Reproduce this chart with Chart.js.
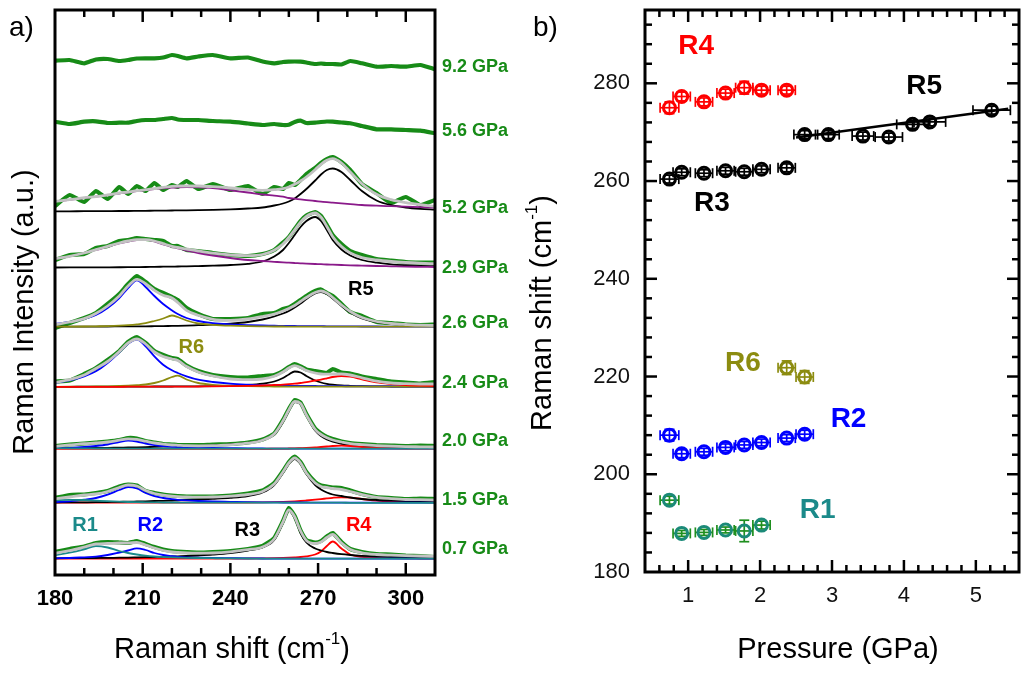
<!DOCTYPE html>
<html>

<head>
    <meta charset="utf-8">
    <title>Raman spectra under pressure</title>
    <script src="https://cdn.jsdelivr.net/npm/chart.js"></script>
    <style>
        body { margin: 0; background: #fff; }
        #wrap { position: relative; width: 1028px; height: 675px; }
        #spectra { position: absolute; left: 0; top: 0; }
        #shifts { position: absolute; left: 520px; top: 0; }
    </style>
</head>

<body>
    <div id="wrap">
        <canvas id="spectra" width="520" height="675"></canvas>
        <canvas id="shifts" width="508" height="675"></canvas>
    </div>
    <script>
        const FONT = 'Arial, "Liberation Sans", sans-serif';
        Chart.defaults.font.family = FONT;
        Chart.defaults.color = '#000';

        // ---------- panel a) spectra ----------
        const shift = [180, 185, 190, 194, 198, 202, 205, 208, 211, 214, 217, 220, 222, 225, 229, 234, 240, 246, 251, 255, 258, 260, 262, 264, 266, 269, 271, 273, 275, 278, 281, 285, 290, 295, 300, 305, 310];
        const shiftTicks = [180, 210, 240, 270, 300];
        const pressureLabels = ['0.7 GPa', '1.5 GPa', '2.0 GPa', '2.4 GPa', '2.6 GPa', '2.9 GPa', '5.2 GPa', '5.6 GPa', '9.2 GPa'];
        const baseline = [16, 72, 126, 188, 248, 307, 363, 440, 503];
        const labelLevel = [26, 75, 134, 192, 252, 307, 367, 444, 508];

        // 0.7 GPa
        const raw07 = [7, 10, 12.5, 16, 17, 16.5, 16, 18, 15, 12, 9.5, 8, 7.5, 7, 6.5, 7, 8, 10, 13, 21, 38, 51, 43, 28.5, 19, 16.5, 18, 22.5, 26, 17, 10, 7, 5, 4.5, 3.5, 3, 2];
        const fit07 = [5.7, 8.5, 12, 15, 15.5, 16, 16, 16.5, 14, 11, 8.5, 7, 6.5, 6, 5.8, 6, 7.2, 9.3, 12, 20, 37, 49, 42, 28, 18.5, 15.5, 17, 21.5, 24.5, 16, 9.5, 6.2, 4.5, 3.8, 3.3, 3, 2.6];
        const r1_07 = [4, 6.3, 9.7, 13, 11.5, 8, 6, 4.5, 3.3, 2.5, 2, 1.6, 1.4, 1.2, 1, 0.8, 0.6, 0.5, 0.4, 0.4, 0.4, 0.4, 0.4, 0.4, 0.4, 0.3, 0.3, 0.3, 0.3, 0.3, 0.3, 0.3, 0.3, 0.3, 0.3, 0.3, 0.3];
        const r2_07 = [0.7, 1, 1.7, 2.3, 4, 6.5, 8.5, 10.7, 9, 6, 4, 2.8, 2.2, 1.7, 1.3, 1, 0.8, 0.6, 0.5, 0.4, 0.4, 0.4, 0.4, 0.4, 0.4, 0.4, 0.4, 0.4, 0.3, 0.3, 0.3, 0.3, 0.3, 0.3, 0.3, 0.3, 0.3];
        const r3_07 = [0.7, 0.8, 0.9, 1, 1.1, 1.3, 1.4, 1.6, 1.8, 2, 2.2, 2.5, 2.7, 3, 3.5, 4.3, 5.8, 8.5, 11.5, 19, 36, 48.5, 41, 26, 16.5, 10.5, 8.5, 7, 6, 4.8, 4, 3.2, 2.5, 2, 1.7, 1.5, 1.3];
        const r4_07 = [0.3, 0.3, 0.3, 0.3, 0.3, 0.3, 0.3, 0.3, 0.3, 0.3, 0.3, 0.3, 0.3, 0.3, 0.3, 0.3, 0.3, 0.5, 0.7, 0.9, 1.1, 1.3, 1.6, 2, 2.7, 4.5, 7.5, 13, 17.5, 10.5, 4.5, 2.2, 1.2, 0.8, 0.6, 0.5, 0.4];

        // 1.5 GPa
        const raw15 = [5, 8, 8.5, 10, 12, 16.5, 18.5, 17.5, 12, 10, 8.5, 7.5, 7, 6.5, 6.3, 6.5, 7.5, 9.5, 12.5, 20, 32, 41, 46.5, 41, 31, 21, 17.5, 16.5, 15.5, 15, 12.5, 9, 6, 5, 4, 4.5, 4];
        const fit15 = [4.2, 6, 8, 9, 11.5, 15.5, 18, 17, 12.5, 9.5, 7.8, 6.8, 6.4, 6, 5.8, 6, 6.8, 8.5, 11.5, 19, 31, 40, 45, 40, 30, 20, 16.5, 15.5, 14.5, 13.5, 11.5, 8.3, 5.7, 4.4, 3.5, 3.3, 3];
        const r1_15 = [2.7, 3.2, 3, 2.4, 1.8, 1.3, 1, 0.8, 0.7, 0.6, 0.5, 0.5, 0.5, 0.4, 0.4, 0.4, 0.4, 0.3, 0.3, 0.3, 0.3, 0.3, 0.3, 0.3, 0.3, 0.3, 0.3, 0.3, 0.3, 0.3, 0.2, 0.2, 0.2, 0.2, 0.2, 0.2, 0.2];
        const r2_15 = [1, 1.7, 3.3, 5, 8.3, 13, 16, 14.5, 10, 6.8, 5, 3.8, 3.2, 2.6, 2, 1.5, 1.2, 0.9, 0.7, 0.6, 0.5, 0.5, 0.5, 0.5, 0.5, 0.4, 0.4, 0.4, 0.4, 0.4, 0.4, 0.3, 0.3, 0.3, 0.3, 0.3, 0.3];
        const r3_15 = [0.5, 0.6, 0.7, 0.8, 1, 1.2, 1.3, 1.5, 1.7, 2, 2.2, 2.5, 2.7, 3, 3.5, 4.2, 5.2, 7, 10.5, 18, 30, 39, 44, 39, 29, 18, 13.5, 10.5, 8.5, 7, 5.5, 4, 3, 2.4, 2, 1.7, 1.5];
        const r4_15 = [0.3, 0.3, 0.3, 0.3, 0.3, 0.3, 0.3, 0.3, 0.3, 0.3, 0.3, 0.3, 0.3, 0.3, 0.3, 0.3, 0.3, 0.5, 0.7, 0.9, 1.1, 1.3, 1.6, 2, 2.5, 3.3, 3.9, 4.6, 5.2, 5.7, 5.4, 4, 2.3, 1.4, 1, 0.8, 0.6];

        // 2.0 GPa
        const raw20 = [3, 4.5, 5.5, 6.5, 7.5, 9, 11, 10.5, 8, 6.5, 5, 4.5, 4, 4, 3.8, 4.5, 5, 6.5, 9.5, 15.5, 29, 40, 49, 46.5, 35, 20.5, 15.5, 12, 10, 7.5, 6, 5, 4, 3.5, 3, 3.5, 3];
        const fit20 = [2.7, 4, 5.3, 6, 7, 8.8, 10.2, 9.6, 7.8, 6, 4.8, 4, 3.7, 3.3, 3.2, 3.3, 4.2, 5.8, 8.8, 15, 28, 39, 47.5, 45.5, 34, 19.5, 14.5, 11.3, 9, 7, 5.3, 4.3, 3.4, 2.8, 2.4, 2.2, 2];
        const r1_20 = [0.8, 0.7, 0.6, 0.5, 0.5, 0.4, 0.4, 0.4, 0.4, 0.3, 0.3, 0.3, 0.3, 0.3, 0.3, 0.3, 0.3, 0.3, 0.3, 0.3, 0.3, 0.3, 0.3, 0.3, 0.3, 0.3, 0.3, 0.3, 0.3, 0.3, 0.3, 0.3, 0.3, 0.3, 0.3, 0.3, 0.3];
        const r2_20 = [0.8, 1.2, 2, 3, 4.5, 7, 8.3, 7.5, 5.5, 4, 2.8, 2.2, 1.9, 1.5, 1.2, 1, 0.8, 0.6, 0.5, 0.4, 0.4, 0.4, 0.4, 0.4, 0.4, 0.4, 0.4, 0.3, 0.3, 0.3, 0.3, 0.3, 0.3, 0.3, 0.3, 0.3, 0.3];
        const r3_20 = [0.8, 0.9, 1, 1.1, 1.2, 1.4, 1.5, 1.7, 1.9, 2.1, 2.3, 2.5, 2.7, 2.9, 3.2, 3.7, 4.6, 6.2, 9, 14.5, 27, 38, 47, 45, 33.5, 18.5, 13, 9.5, 7.3, 5.2, 4, 3, 2.3, 1.9, 1.6, 1.4, 1.2];
        const r4_20 = [0.2, 0.2, 0.2, 0.2, 0.2, 0.2, 0.2, 0.2, 0.2, 0.2, 0.2, 0.2, 0.2, 0.2, 0.2, 0.2, 0.2, 0.2, 0.2, 0.3, 0.4, 0.5, 0.6, 0.8, 1, 1.5, 2, 2.5, 3, 3.3, 3, 2, 1, 0.6, 0.4, 0.3, 0.3];

        // 2.4 GPa
        const raw24 = [5.5, 6.5, 13, 19, 27, 36, 45, 50, 44, 36, 32, 29, 28, 21.5, 16, 12, 10, 9.5, 11, 12, 16, 20, 23, 20.5, 17.5, 16, 15, 14, 18, 14.5, 13.5, 10.5, 8, 5.5, 4.5, 3.5, 5];
        const fit24 = [4.7, 7.3, 12, 18.5, 25.5, 35.5, 44, 48, 43, 35, 30.5, 28, 26.5, 20.5, 15, 11, 8, 7.3, 8, 10.7, 15, 19, 21.3, 19.5, 16.5, 14, 13, 12.8, 13, 13, 12, 9.2, 5.8, 4, 3.3, 3, 3];
        const r2_24 = [4, 6.7, 10.7, 15.7, 24, 34.7, 43.3, 47.3, 40.7, 30.7, 22.3, 16.7, 14, 10.7, 7.3, 5, 3.3, 2.3, 1.7, 1.4, 1.3, 1.2, 1.1, 1.1, 1, 1, 0.9, 0.9, 0.8, 0.8, 0.7, 0.7, 0.6, 0.5, 0.5, 0.4, 0.4];
        const r6_24 = [0.2, 0.3, 0.4, 0.5, 0.7, 1, 1.3, 1.8, 2.5, 4, 6.5, 10, 11.3, 7.5, 4, 2.2, 1.2, 0.8, 0.6, 0.5, 0.4, 0.4, 0.4, 0.4, 0.4, 0.4, 0.4, 0.3, 0.3, 0.3, 0.3, 0.3, 0.3, 0.3, 0.3, 0.3, 0.3];
        const r3_24 = [0.2, 0.2, 0.3, 0.3, 0.3, 0.3, 0.4, 0.4, 0.4, 0.5, 0.5, 0.5, 0.6, 0.6, 0.7, 0.9, 1.3, 2, 3.3, 5.5, 9, 12.5, 15.5, 14.5, 11, 6.5, 4.5, 3.2, 2.4, 1.6, 1.2, 0.8, 0.6, 0.5, 0.4, 0.3, 0.3];
        const r4_24 = [0.2, 0.2, 0.2, 0.2, 0.2, 0.2, 0.3, 0.3, 0.3, 0.3, 0.3, 0.4, 0.4, 0.4, 0.5, 0.6, 0.8, 1.1, 1.5, 2, 2.4, 2.8, 3.3, 4, 4.8, 6.5, 7.3, 8.6, 10, 11, 10.3, 7.7, 4.6, 3, 2, 1.4, 1];

        // 2.6 GPa
        const raw26 = [-1, 4, 9, 14, 23, 33, 43, 51, 45, 38, 34, 30, 27, 19, 13, 8, 8, 9, 13, 14, 18, 19.5, 23, 27, 31, 36, 37.5, 34, 31, 23, 15, 11, 5, 4, 2.5, 2, 2.5];
        const fit26 = [2.3, 5, 8.3, 13.5, 21, 31, 41, 47.7, 43.3, 36.7, 31.7, 29, 24.5, 16.7, 11.7, 7.7, 6.7, 8, 10.5, 13, 16, 18.5, 21.5, 25.5, 29.5, 34.5, 36, 34, 29.5, 22, 15.5, 9.5, 5.5, 3.5, 2.5, 1.8, 1.7];
        const r2_26 = [3, 5, 8, 12, 19, 29, 39, 46.7, 40, 31, 23, 16.7, 13, 9, 6, 3.8, 2.6, 1.9, 1.5, 1.3, 1.1, 1, 1, 0.9, 0.9, 0.8, 0.8, 0.7, 0.7, 0.6, 0.6, 0.5, 0.5, 0.4, 0.4, 0.4, 0.3];
        const r6_26 = [0.3, 0.35, 0.5, 0.7, 0.9, 1.3, 1.8, 2.6, 3.8, 6, 8.5, 11.5, 10, 6.5, 3.5, 2.2, 1.3, 0.8, 0.6, 0.5, 0.5, 0.4, 0.4, 0.4, 0.4, 0.4, 0.4, 0.4, 0.4, 0.3, 0.3, 0.3, 0.3, 0.3, 0.3, 0.3, 0.3];
        const r5_26 = [0.3, 0.35, 0.4, 0.45, 0.5, 0.55, 0.6, 0.65, 0.7, 0.8, 0.9, 1.1, 1.2, 1.4, 1.8, 2.3, 3.3, 5, 7.5, 10.5, 13.5, 16, 19.5, 23.5, 28, 33.5, 35, 33, 28.5, 21, 14.5, 8.5, 5, 3.2, 2.3, 1.8, 1.4];

        // 2.9 GPa
        const raw29 = [8, 13, 14, 20, 22, 27, 28, 30, 29, 28, 27, 22, 22, 18, 17, 15, 13, 12, 14, 18, 25.5, 31, 39, 47, 52.5, 56, 52, 43, 33, 24, 17, 13, 9, 7.5, 6, 5.5, 5.5];
        const fit29 = [9.3, 11.7, 15, 18.3, 21.7, 25, 27, 28.3, 28.3, 27, 24.3, 21.7, 20.5, 19, 17, 14.8, 13, 12.3, 13.5, 17.8, 24, 30.5, 38.2, 45.8, 51.5, 55, 50.8, 41.5, 31.3, 21.5, 15.1, 10.5, 8, 6.5, 5.5, 4.8, 4.3];
        const broad29 = [9.3, 11.7, 15, 18, 21.3, 24.5, 26.5, 27.8, 28.2, 26.5, 23.5, 21, 19.5, 17.5, 15, 12.5, 10, 8, 7, 6.2, 5.6, 5.3, 5, 4.7, 4.4, 4, 3.8, 3.5, 3.3, 3, 2.7, 2.4, 2, 1.7, 1.4, 1.2, 1];
        const r5_29 = [0.5, 0.55, 0.6, 0.65, 0.7, 0.75, 0.8, 0.9, 1, 1.2, 1.3, 1.4, 1.5, 1.6, 1.9, 2.3, 3, 4.2, 6.5, 11.5, 18, 25, 33, 41, 47, 51, 47, 38, 28, 18.5, 12.5, 8, 5.3, 3.7, 2.8, 2.2, 1.8];

        // 5.2 GPa
        const raw52 = [6, 17, 10, 21, 13, 25, 18, 26, 21, 29, 22, 27, 25, 31, 23, 28, 22, 26, 18, 25, 23, 29, 27, 32, 38, 44, 49, 53, 55, 50, 42, 28, 19, 9, 15, 7, 12];
        const fit52 = [10.7, 12.3, 14.3, 15.3, 17, 19, 20, 21.3, 22.3, 23.3, 24.7, 25.7, 26, 26, 26, 25.3, 24, 22.3, 21.7, 22.3, 23.3, 25, 27.7, 31, 35, 42.3, 47.7, 51.7, 53.3, 49, 40, 28.3, 17.7, 12.3, 9.3, 7.3, 5.7];
        const broad52 = [10.7, 12.2, 14, 15.3, 16.8, 18.5, 19.6, 20.8, 21.8, 22.8, 23.6, 24.3, 24.6, 24.8, 24.6, 23.8, 21.7, 19.5, 17.5, 16.3, 15.3, 14, 13.3, 12.6, 11.9, 11, 10.4, 9.8, 9.3, 8.6, 7.9, 7, 6.3, 5.8, 5.3, 4.8, 4.3];
        const r5_52 = [0.7, 0.7, 0.8, 0.8, 0.9, 1, 1, 1.1, 1.2, 1.3, 1.4, 1.5, 1.6, 1.7, 1.9, 2.2, 2.7, 3.5, 4.5, 6.5, 8.5, 10.5, 13.5, 18, 23, 31.5, 37.5, 42, 43.5, 40, 32, 21, 11.5, 6.8, 4.5, 3.2, 2.4];

        // 5.6 and 9.2 GPa (no peaks left)
        const raw56 = [13.3, 11, 13.3, 13.7, 12, 12.3, 12.3, 14, 15, 15, 16, 17, 15.5, 15, 15, 14, 13.3, 11.5, 10, 11, 10, 10.3, 13, 14.3, 12, 12.3, 13, 13.5, 13.3, 12.5, 11.7, 9, 5.7, 5.7, 5, 4.3, 1.7];
        const raw92 = [11.3, 12, 8.7, 12.5, 13, 11, 12, 13.5, 13.7, 13.7, 14.5, 17, 16, 13.7, 15.5, 17, 13.7, 14.5, 10.5, 8.7, 10, 10.3, 10.5, 10.3, 9.5, 8, 8.5, 8, 8, 7.5, 11, 8.7, 5.3, 6, 5.3, 7, 2.7];

        const GREEN = '#178b17';
        const GREY = '#c2c2c2';
        const TEAL = '#1b8a8a';
        const BLUE = '#0000ff';
        const RED = '#ff0000';
        const OLIVE = '#8c8c10';
        const PURPLE = '#8a1a8a';
        const BLACK = '#000000';

        const spectra = [
            { raw: raw07, fit: fit07, parts: [[r1_07, TEAL], [r2_07, BLUE], [r3_07, BLACK], [r4_07, RED]] },
            { raw: raw15, fit: fit15, parts: [[r1_15, TEAL], [r2_15, BLUE], [r3_15, BLACK], [r4_15, RED]] },
            { raw: raw20, fit: fit20, parts: [[r1_20, TEAL], [r4_20, RED], [r2_20, BLUE], [r3_20, BLACK]] },
            { raw: raw24, fit: fit24, parts: [[r4_24, RED], [r6_24, OLIVE], [r2_24, BLUE], [r3_24, BLACK]] },
            { raw: raw26, fit: fit26, parts: [[r6_26, OLIVE], [r2_26, BLUE], [r5_26, BLACK]] },
            { raw: raw29, fit: fit29, parts: [[broad29, PURPLE], [r5_29, BLACK]] },
            { raw: raw52, fit: fit52, parts: [[broad52, PURPLE], [r5_52, BLACK]] },
            { raw: raw56, fit: null, parts: [] },
            { raw: raw92, fit: null, parts: [] }
        ];

        const spectraNotes = [
            { text: 'R1', color: TEAL, x: 190.3, y: 50 },
            { text: 'R2', color: BLUE, x: 212.6, y: 50 },
            { text: 'R3', color: BLACK, x: 245.8, y: 45 },
            { text: 'R4', color: RED, x: 283.9, y: 50 },
            { text: 'R6', color: OLIVE, x: 226.6, y: 228 },
            { text: 'R5', color: BLACK, x: 284.6, y: 286 }
        ];

        // ---------- panel b) peak positions ----------
        const pLow = [0.74, 0.91, 1.22, 1.52, 1.78, 2.02, 2.37];
        const r1Shift = [194.7, 187.9, 188.1, 188.6, 188.4, 189.6];
        const r2Press = [0.74, 0.91, 1.22, 1.52, 1.78, 2.02, 2.37, 2.62];
        const r2Shift = [208.0, 204.2, 204.6, 205.5, 206.0, 206.5, 207.4, 208.2];
        const r3Shift = [260.4, 261.8, 261.6, 262.1, 261.9, 262.4, 262.7];
        const r4Shift = [275.0, 277.3, 276.2, 278.0, 279.1, 278.6, 278.6];
        const r5Press = [2.62, 2.95, 3.43, 3.79, 4.12, 4.36, 5.22];
        const r5Shift = [269.5, 269.5, 269.2, 269.0, 271.6, 272.1, 274.5];
        const r6Press = [2.37, 2.62];
        const r6Shift = [221.8, 219.9];
        const r5FitPress = [2.5, 5.45];
        const r5FitShift = [268.9, 274.8];

        const errPLow = [0.13, 0.12, 0.12, 0.12, 0.12, 0.12, 0.12];
        const errR1 = [0.8, 0.6, 0.6, 0.6, 2.2, 0.8];
        const errR2 = [1.2, 0.8, 0.7, 0.7, 0.7, 0.7, 0.7, 0.8];
        const errR3 = [0.8, 0.7, 0.7, 0.7, 0.7, 0.7, 0.8];
        const errR4 = [1.2, 0.9, 0.8, 0.8, 1.3, 0.8, 0.8];
        const errP5 = [0.15, 0.15, 0.15, 0.19, 0.22, 0.22, 0.26];
        const errR5 = [0.8, 0.8, 0.8, 0.8, 0.8, 0.8, 0.8];
        const errR6 = [1.4, 1.3];

        const pressTicks = [1, 2, 3, 4, 5];
        const shiftAxisTicks = [180, 200, 220, 240, 260, 280];

        const shiftNotes = [
            { text: 'R4', color: RED, x: 1.11, y: 287.6 },
            { text: 'R5', color: BLACK, x: 4.28, y: 279.4 },
            { text: 'R3', color: BLACK, x: 1.33, y: 255.5 },
            { text: 'R6', color: OLIVE, x: 1.76, y: 222.7 },
            { text: 'R2', color: BLUE, x: 3.23, y: 211.3 },
            { text: 'R1', color: TEAL, x: 2.8, y: 192.7 }
        ];

        // ---------- helpers ----------
        function seg(ctx, x0, y0, x1, y1) {
            ctx.beginPath();
            ctx.moveTo(x0, y0);
            ctx.lineTo(x1, y1);
            ctx.stroke();
        }

        // text with an optional superscript piece, centred on (cx, cy)
        function titleText(ctx, cx, cy, angle, pieces, size) {
            ctx.save();
            ctx.translate(cx, cy);
            ctx.rotate(angle);
            ctx.textAlign = 'left';
            ctx.textBaseline = 'middle';
            ctx.fillStyle = '#000';
            let total = 0;
            pieces.forEach(p => {
                ctx.font = (p.sup ? Math.round(size * 0.6) : size) + 'px ' + FONT;
                p.w = ctx.measureText(p.t).width;
                total += p.w;
            });
            let x = -total / 2;
            pieces.forEach(p => {
                ctx.font = (p.sup ? Math.round(size * 0.6) : size) + 'px ' + FONT;
                ctx.fillText(p.t, x, p.sup ? -size * 0.36 : 0);
                x += p.w;
            });
            ctx.restore();
        }

        function zeroPadding(s) {
            s.paddingLeft = 0; s.paddingRight = 0; s.paddingTop = 0; s.paddingBottom = 0;
        }

        const pts = (arr, base) => arr.map((v, i) => ({ x: shift[i], y: base + v }));

        // ---------- chart a ----------
        const spectraSets = [];
        spectra.forEach((s, k) => {
            const base = baseline[k];
            // measured data: kept a bit rough, like the raw spectrum
            spectraSets.push({ data: pts(s.raw, base), borderColor: GREEN, borderWidth: 4.2, order: 3, cubicInterpolationMode: 'default', tension: 0.15 });
            s.parts.forEach(([arr, col]) => {
                spectraSets.push({ data: pts(arr, base), borderColor: col, borderWidth: 1.8, order: 2 });
            });
            if (s.fit) spectraSets.push({ data: pts(s.fit, base), borderColor: GREY, borderWidth: 2.8, order: 1 });
        });

        const spectraDecor = {
            id: 'spectraDecor',
            afterDraw(chart) {
                const { ctx, chartArea: a, scales: { x, y } } = chart;
                ctx.save();
                ctx.strokeStyle = '#000';
                ctx.lineWidth = 2.5;
                for (let v = 190; v < 310; v += 10) {
                    const px = x.getPixelForValue(v);
                    const len = shiftTicks.includes(v) ? 12 : 7;
                    seg(ctx, px, a.bottom, px, a.bottom - len);
                    seg(ctx, px, a.top, px, a.top + len);
                }
                ctx.lineWidth = 3;
                ctx.strokeRect(a.left, a.top, a.right - a.left, a.bottom - a.top);

                // pressure labels on the right
                ctx.font = 'bold 18px ' + FONT;
                ctx.fillStyle = GREEN;
                ctx.textAlign = 'left';
                ctx.textBaseline = 'middle';
                pressureLabels.forEach((t, i) => ctx.fillText(t, a.right + 7, y.getPixelForValue(labelLevel[i])));

                // peak names
                ctx.font = 'bold 20px ' + FONT;
                ctx.textAlign = 'center';
                spectraNotes.forEach(n => {
                    ctx.fillStyle = n.color;
                    ctx.fillText(n.text, x.getPixelForValue(n.x), y.getPixelForValue(n.y));
                });

                ctx.font = '28px ' + FONT;
                ctx.fillStyle = '#000';
                ctx.textAlign = 'left';
                ctx.fillText('a)', 9, 28);
                ctx.restore();

                titleText(ctx, 232, 650, 0, [{ t: 'Raman shift (cm' }, { t: '-1', sup: true }, { t: ')' }], 29);
                titleText(ctx, 25, 312, -Math.PI / 2, [{ t: 'Raman Intensity (a.u.)' }], 29);
            }
        };

        new Chart(document.getElementById('spectra'), {
            type: 'line',
            data: { datasets: spectraSets },
            options: {
                responsive: false,
                devicePixelRatio: 1,
                animation: false,
                events: [],
                layout: { padding: { left: 55, right: 85, top: 10, bottom: 0 } },
                elements: {
                    point: { radius: 0 },
                    line: { cubicInterpolationMode: 'monotone', fill: false }
                },
                plugins: { legend: { display: false }, tooltip: { enabled: false } },
                scales: {
                    x: {
                        type: 'linear',
                        min: 180,
                        max: 310,
                        grid: { display: false, drawTicks: false },
                        border: { display: false },
                        ticks: { font: { size: 22, weight: 'bold' }, color: '#000', padding: 11, maxRotation: 0, autoSkip: false },
                        afterBuildTicks: s => { s.ticks = shiftTicks.map(v => ({ value: v })); },
                        afterFit: s => { s.height = 100; zeroPadding(s); }
                    },
                    y: { display: false, min: 0, max: 565 }
                }
            },
            plugins: [spectraDecor]
        });

        // ---------- chart b ----------
        const xy = (xs, ys) => ys.map((v, i) => ({ x: xs[i], y: v }));
        const marker = (color) => ({
            showLine: false,
            pointRadius: 6,
            pointBorderWidth: 3,
            pointBackgroundColor: 'rgba(0,0,0,0)',
            pointBorderColor: color,
            borderColor: color
        });

        const shiftSets = [
            Object.assign({ data: xy(pLow, r4Shift), errX: errPLow, errY: errR4, errColor: RED, order: 1 }, marker(RED)),
            Object.assign({ data: xy(pLow, r3Shift), errX: errPLow, errY: errR3, errColor: BLACK, order: 1 }, marker(BLACK)),
            Object.assign({ data: xy(r5Press, r5Shift), errX: errP5, errY: errR5, errColor: BLACK, order: 1 }, marker(BLACK)),
            Object.assign({ data: xy(r6Press, r6Shift), errX: [0.12, 0.12], errY: errR6, errColor: OLIVE, order: 1 }, marker(OLIVE)),
            Object.assign({ data: xy(r2Press, r2Shift), errX: r2Press.map((_, i) => i < 7 ? errPLow[i] : 0.12), errY: errR2, errColor: BLUE, order: 1 }, marker(BLUE)),
            Object.assign({ data: xy(pLow.slice(0, 6), r1Shift), errX: errPLow.slice(0, 6), errY: errR1, errColor: '#1f8f1f', order: 1 }, marker('#1b8a78')),
            { data: xy(r5FitPress, r5FitShift), showLine: true, pointRadius: 0, borderColor: BLACK, borderWidth: 2.5, order: 2 }
        ];

        const shiftDecor = {
            id: 'shiftDecor',
            beforeDatasetsDraw(chart) {
                const { ctx, scales: { x, y } } = chart;
                ctx.save();
                ctx.lineWidth = 1.7;
                chart.data.datasets.forEach(ds => {
                    if (!ds.errX) return;
                    ctx.strokeStyle = ds.errColor;
                    ds.data.forEach((p, j) => {
                        const cx = x.getPixelForValue(p.x);
                        const cy = y.getPixelForValue(p.y);
                        const x0 = x.getPixelForValue(p.x - ds.errX[j]);
                        const x1 = x.getPixelForValue(p.x + ds.errX[j]);
                        seg(ctx, x0, cy, x1, cy);
                        seg(ctx, x0, cy - 5, x0, cy + 5);
                        seg(ctx, x1, cy - 5, x1, cy + 5);
                        const y0 = y.getPixelForValue(p.y - ds.errY[j]);
                        const y1 = y.getPixelForValue(p.y + ds.errY[j]);
                        seg(ctx, cx, y0, cx, y1);
                        seg(ctx, cx - 5, y0, cx + 5, y0);
                        seg(ctx, cx - 5, y1, cx + 5, y1);
                    });
                });
                ctx.restore();
            },
            afterDraw(chart) {
                const { ctx, chartArea: a, scales: { x, y } } = chart;
                ctx.save();
                ctx.strokeStyle = '#000';
                ctx.lineWidth = 2.5;
                for (let i = 3; i < 28; i++) {
                    const px = x.getPixelForValue(i / 5);
                    const len = i % 5 === 0 ? 12 : 7;
                    seg(ctx, px, a.bottom, px, a.bottom - len);
                    seg(ctx, px, a.top, px, a.top + len);
                }
                for (let v = 184; v < 295; v += 4) {
                    const py = y.getPixelForValue(v);
                    const len = (v - 180) % 20 === 0 ? 12 : 7;
                    seg(ctx, a.left, py, a.left + len, py);
                    seg(ctx, a.right, py, a.right - len, py);
                }
                ctx.lineWidth = 3;
                ctx.strokeRect(a.left, a.top, a.right - a.left, a.bottom - a.top);

                ctx.font = 'bold 28px ' + FONT;
                ctx.textAlign = 'center';
                ctx.textBaseline = 'middle';
                shiftNotes.forEach(n => {
                    ctx.fillStyle = n.color;
                    ctx.fillText(n.text, x.getPixelForValue(n.x), y.getPixelForValue(n.y));
                });

                ctx.font = '28px ' + FONT;
                ctx.fillStyle = '#000';
                ctx.textAlign = 'left';
                ctx.fillText('b)', 13, 28);
                ctx.restore();

                titleText(ctx, 318, 650, 0, [{ t: 'Pressure (GPa)' }], 29);
                titleText(ctx, 23, 313, -Math.PI / 2, [{ t: 'Raman shift (cm' }, { t: '-1', sup: true }, { t: ')' }], 29);
            }
        };

        new Chart(document.getElementById('shifts'), {
            type: 'scatter',
            data: { datasets: shiftSets },
            options: {
                responsive: false,
                devicePixelRatio: 1,
                animation: false,
                events: [],
                layout: { padding: { left: 0, right: 1, top: 10, bottom: 0 } },
                plugins: { legend: { display: false }, tooltip: { enabled: false } },
                scales: {
                    x: {
                        type: 'linear',
                        min: 0.4,
                        max: 5.6,
                        grid: { display: false, drawTicks: false },
                        border: { display: false },
                        ticks: { font: { size: 22 }, color: '#111', padding: 11, maxRotation: 0, autoSkip: false },
                        afterBuildTicks: s => { s.ticks = pressTicks.map(v => ({ value: v })); },
                        afterFit: s => { s.height = 103; zeroPadding(s); }
                    },
                    y: {
                        type: 'linear',
                        min: 180,
                        max: 295,
                        grid: { display: false, drawTicks: false },
                        border: { display: false },
                        ticks: { font: { size: 22 }, color: '#111', padding: 15, autoSkip: false },
                        afterBuildTicks: s => { s.ticks = shiftAxisTicks.map(v => ({ value: v })); },
                        afterFit: s => { s.width = 125; zeroPadding(s); }
                    }
                }
            },
            plugins: [shiftDecor]
        });
    </script>
</body>

</html>
